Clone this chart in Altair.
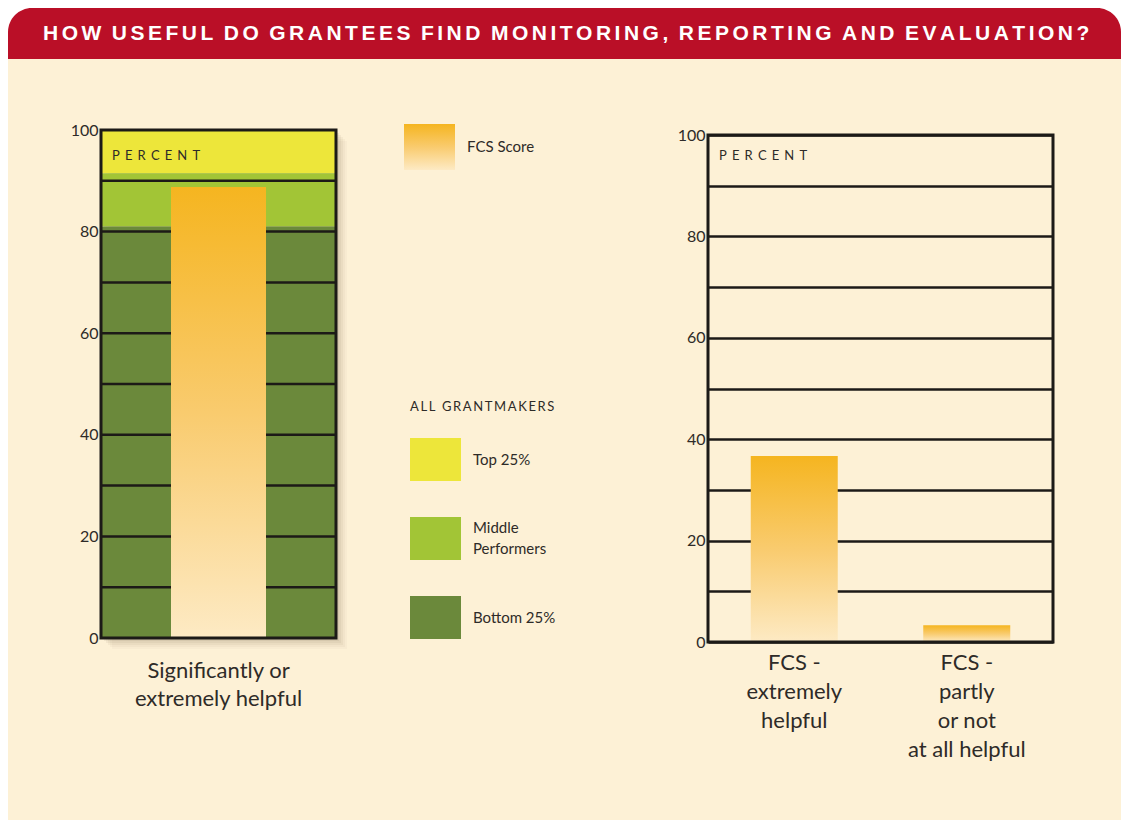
import altair as alt
import pandas as pd

# ---------------- data ----------------
TITLE_WORDS = ["HOW", "USEFUL", "DO", "GRANTEES", "FIND", "MONITORING,", "REPORTING",
               "AND", "EVALUATION?"]
PANEL_NOTE = "PERCENT"
LEGEND_HEAD = ["ALL", "GRANTMAKERS"]
FCS_LABEL = "FCS Score"

left_categories = ["Significantly or|extremely helpful"]
left_fcs = [88.8]

band_names = ["Top 25%", "Middle Performers", "Bottom 25%"]
band_low = [91.5, 81.0, 0.0]
band_high = [100.0, 91.5, 81.0]
band_colors = ["#EDE63A", "#A2C536", "#6B893B"]
band_labels = ["Top 25%", "Middle\nPerformers", "Bottom 25%"]

grid_values = [10, 20, 30, 40, 50, 60, 70, 80, 90]
label_values = [0, 20, 40, 60, 80, 100]

right_categories = ["FCS -|extremely|helpful", "FCS -|partly|or not|at all helpful"]
right_values = [36.7, 3.3]


def spaced(words, gap, word_gap):
    # letter-spaced display of a text (Vega text marks have no letterSpacing)
    return word_gap.join(gap.join(w) for w in words)


# ---------------- styles ----------------
CREAM = "#FDF1D6"
RED = "#BA0F27"
INK = "#2E2B28"
LINE = "#1C1A17"
FONT = "Lato"

grad = alt.Gradient(
    gradient="linear",
    stops=[
        alt.GradientStop(color="#F5B520", offset=0),
        alt.GradientStop(color="#F9CB6E", offset=0.5),
        alt.GradientStop(color="#FDEAC4", offset=1),
    ],
    x1=0, x2=0, y1=0, y2=1,
)

# page geometry (plot origins)
OX, OY = 101, 130          # left plot origin on the page
PW_L, PH = 235, 508
LEG_W = 708 - 336          # legend panel width (right plot starts at page x 708)
PW_R = 345
R_OFF = 5                   # right plot sits 5px lower

yscale = alt.Scale(domain=[0, 100], nice=False)
yaxis = alt.Axis(values=label_values, grid=False, ticks=False, domain=False,
                 labelFontSize=16, labelColor=INK, labelFont=FONT, labelPadding=3,
                 title=None)

one = pd.DataFrame({"t": [spaced(TITLE_WORDS, "\u2006", "\u2002")]})
NOTE_GAP = "\u2004\u200a"

# ---------------- banner (drawn above the left panel) ----------------
BX0, BX1 = 8 - OX, 1121 - OX
BY0, BY1 = 8 - OY, 59 - OY
banner_under = alt.Chart(one).mark_rect(color="white").encode(
    x=alt.value(BX0), x2=alt.value(BX1), y=alt.value(BY0), y2=alt.value(BY0 + 26))
banner_rect = alt.Chart(one).mark_rect(
    color=RED, cornerRadiusTopLeft=24, cornerRadiusTopRight=24
).encode(x=alt.value(BX0), x2=alt.value(BX1), y=alt.value(BY0), y2=alt.value(BY1))
banner_text = alt.Chart(one).mark_text(
    align="left", baseline="middle", color="white", font="Liberation Sans",
    fontWeight="bold", fontSize=21
).encode(x=alt.value(43 - OX), y=alt.value(34 - OY), text="t:N")

# ---------------- left panel ----------------
bands_df = pd.DataFrame({"name": band_names, "low": band_low, "high": band_high})
shadows = [
    alt.Chart(one).mark_rect(color="#5a4a30", opacity=op).encode(
        x=alt.value(o), x2=alt.value(PW_L + o), y=alt.value(o), y2=alt.value(PH + o))
    for o, op in [(11, 0.03), (9, 0.04), (7, 0.05), (5, 0.06), (3, 0.08)]
]
bands = alt.Chart(bands_df).mark_rect().encode(
    y=alt.Y("low:Q", scale=yscale, axis=yaxis),
    y2="high:Q",
    color=alt.Color("name:N", scale=alt.Scale(domain=band_names, range=band_colors), legend=None),
)
grid_l = alt.Chart(pd.DataFrame({"v": grid_values})).mark_rule(color=LINE, strokeWidth=2.5).encode(
    y=alt.Y("v:Q", scale=yscale))
bar_l = alt.Chart(pd.DataFrame({"cat": left_categories, "val": left_fcs})).mark_bar(
    size=95, color=grad).encode(
    x=alt.X("cat:N", axis=alt.Axis(labelExpr="split(datum.label, '|')", labelAngle=0,
                                   labelFontSize=22, labelLineHeight=28, labelColor=INK,
                                   labelFont=FONT, labelPadding=22, ticks=False,
                                   domain=False, title=None)),
    y=alt.Y("val:Q", scale=yscale),
)
pct_df = pd.DataFrame({"t": [spaced([PANEL_NOTE], NOTE_GAP, " ")]})
pct_l = alt.Chart(pct_df).mark_text(align="left", baseline="middle", fontSize=13,
                                    color=INK, font=FONT).encode(
    x=alt.value(11), y=alt.value(26), text="t:N")
frame_l = alt.Chart(pct_df).mark_rect(fill=None, stroke=LINE, strokeWidth=3).encode(
    x=alt.value(0), x2=alt.value("width"), y=alt.value(0), y2=alt.value("height"))
left = alt.layer(banner_under, banner_rect, banner_text, *shadows, bands, grid_l, bar_l,
                 pct_l, frame_l).properties(
    width=PW_L, height=PH, view=alt.ViewBackground(stroke=None))

# ---------------- legend panel ----------------
LX = 336  # page x of legend panel origin
LY = OY   # page y of legend panel top
leg_df = pd.DataFrame({"name": band_names, "label": band_labels})
leg_df["lines"] = leg_df["label"].str.count("\n") + 1
leg_y = alt.Y("name:N", scale=alt.Scale(type="point", domain=band_names,
                                        range=[459.5 - LY, 617.5 - LY], padding=0), axis=None)
sw = alt.Chart(leg_df).mark_point(
    shape="M-1,-0.843H1V0.843H-1Z", filled=True, opacity=1, size=2601, strokeWidth=0
).encode(
    x=alt.value(435.5 - LX), y=leg_y,
    color=alt.Color("name:N", scale=alt.Scale(domain=band_names, range=band_colors), legend=None),
)
sw_txt1 = alt.Chart(leg_df).transform_filter("datum.lines == 1").mark_text(
    align="left", baseline="middle", fontSize=15, color=INK, font=FONT).encode(
    x=alt.value(473 - LX), y=leg_y, text="label:N")
sw_txt2 = alt.Chart(leg_df).transform_filter("datum.lines == 2").mark_text(
    align="left", baseline="middle", fontSize=15, lineHeight=21, lineBreak="\n",
    dy=-11, color=INK, font=FONT).encode(
    x=alt.value(473 - LX), y=leg_y, text="label:N")
hdr = alt.Chart(pd.DataFrame({"t": [spaced(LEGEND_HEAD, "\u2009", "\u2002")]})).mark_text(
    align="left", baseline="middle", fontSize=13, color=INK, font=FONT
).encode(x=alt.value(410 - LX), y=alt.value(407 - LY), text="t:N")
fcs_df = pd.DataFrame({"t": [FCS_LABEL]})
fcs_sw = alt.Chart(fcs_df).mark_rect(color=grad).encode(
    x=alt.value(404 - LX), x2=alt.value(455 - LX), y=alt.value(124 - LY), y2=alt.value(170 - LY))
fcs_txt = alt.Chart(fcs_df).mark_text(align="left", baseline="middle", fontSize=15,
                                      color=INK, font=FONT).encode(
    x=alt.value(467 - LX), y=alt.value(147 - LY), text="t:N")
legend = alt.layer(fcs_sw, fcs_txt, hdr, sw, sw_txt1, sw_txt2).properties(
    width=LEG_W, height=PH, view=alt.ViewBackground(stroke=None))

# ---------------- right panel ----------------
PH_R = 507
rscale = alt.Scale(domain=[0, 100], nice=False, range=[PH_R + R_OFF, R_OFF])
rdf = pd.DataFrame({"cat": right_categories, "val": right_values})
bar_r = alt.Chart(rdf).mark_bar(size=87, color=grad).encode(
    x=alt.X("cat:N", sort=right_categories,
            scale=alt.Scale(paddingInner=0.5, paddingOuter=0.25),
            axis=alt.Axis(labelExpr="split(datum.label, '|')", labelAngle=0,
                          labelFontSize=22, labelLineHeight=29, labelColor=INK,
                          labelFont=FONT, labelPadding=10, ticks=False, domain=False,
                          title=None)),
    y=alt.Y("val:Q", scale=rscale,
            axis=alt.Axis(values=list(range(0, 101, 10)), grid=True, gridColor=LINE,
                          gridWidth=2.5, gridOpacity=1,
                          labelExpr="datum.value % 20 == 0 ? datum.label : ''",
                          ticks=False, domain=False, labelFontSize=16, labelColor=INK,
                          labelFont=FONT, labelPadding=3, title=None)),
)
pct_r = alt.Chart(pct_df).mark_text(align="left", baseline="middle", fontSize=13,
                                    color=INK, font=FONT).encode(
    x=alt.value(11), y=alt.value(R_OFF + 21), text="t:N")
frame_r = alt.Chart(pct_df).mark_rect(fill=None, stroke=LINE, strokeWidth=3).encode(
    x=alt.value(0), x2=alt.value("width"), y=alt.value(R_OFF), y2=alt.value("height"))
right = alt.layer(bar_r, pct_r, frame_r).properties(
    width=PW_R, height=PH_R + R_OFF, view=alt.ViewBackground(stroke=None))

chart = alt.hconcat(left, legend, right, spacing=0, bounds="flush").properties(
    background=CREAM,
    padding={"left": 0, "top": 0, "right": 0, "bottom": 60},
).configure_view(stroke=None).resolve_scale(color="shared")

chart.save("out.html", embed_options={"renderer": "svg", "actions": False})
